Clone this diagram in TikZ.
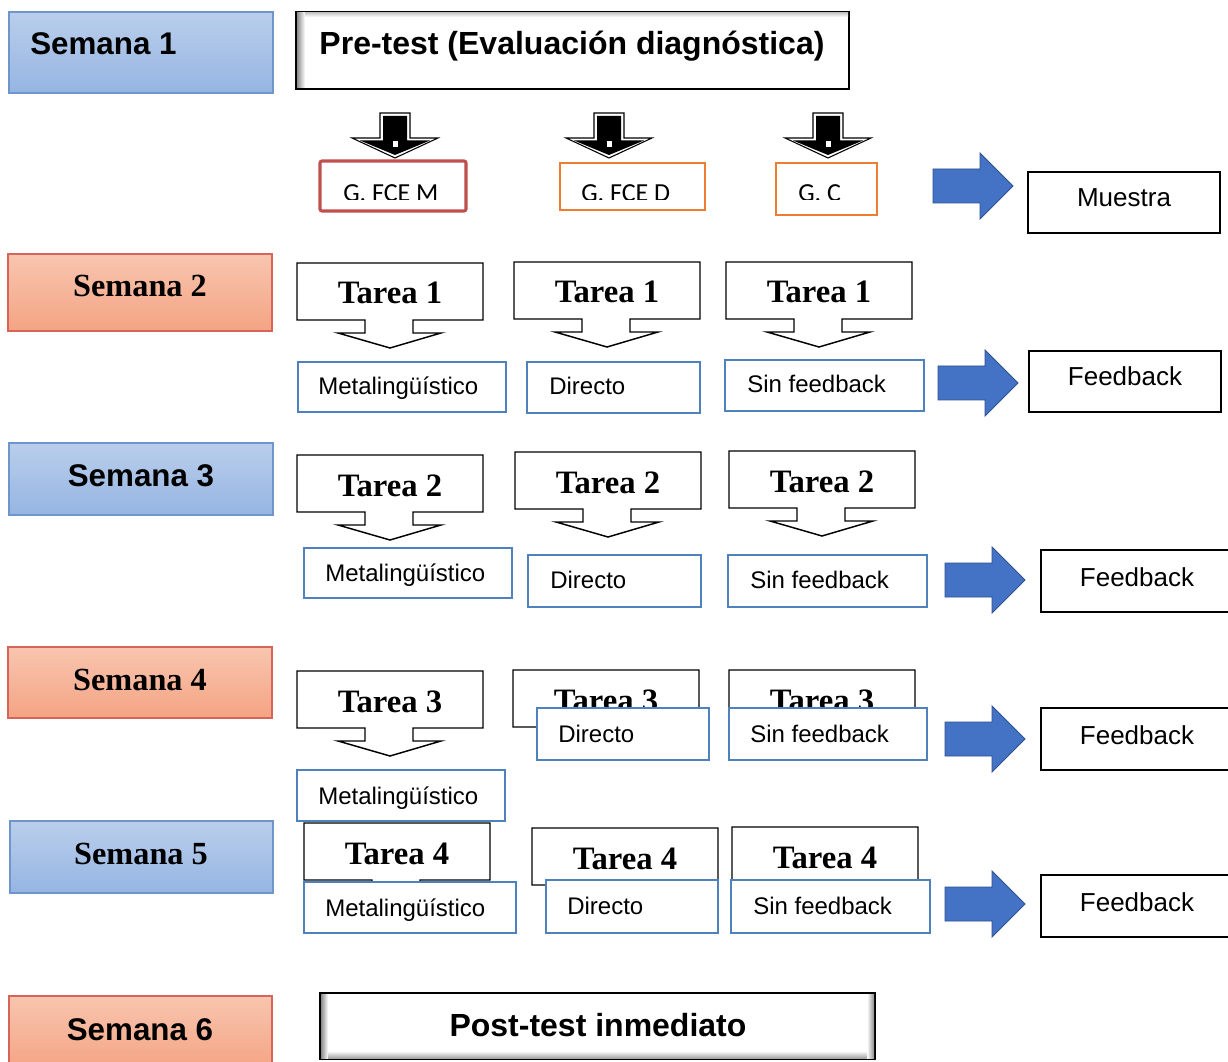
\documentclass[tikz,border=0pt]{standalone}
\usepackage{fontspec}
\setmainfont{Liberation Serif}
\newfontfamily\arial{Liberation Sans}
\newfontfamily\calib{Carlito}
\definecolor{bluetop}{RGB}{186,206,235}
\definecolor{bluebot}{RGB}{149,181,226}
\definecolor{blueedge}{RGB}{110,150,205}
\definecolor{redtop}{RGB}{248,197,175}
\definecolor{redbot}{RGB}{244,164,131}
\definecolor{rededge}{RGB}{215,100,90}
\definecolor{boxblue}{RGB}{79,129,189}
\definecolor{arrowfill}{RGB}{68,114,196}
\definecolor{arrowedge}{RGB}{47,82,143}
\definecolor{gred}{RGB}{192,80,77}
\definecolor{gorange}{RGB}{237,125,49}
\newcommand\callout[4]{%
  \draw[callst] (#1,#2) -- ({#1+186},#2) -- ({#1+186},{#2+57}) -- ({#1+116},{#2+57}) -- ({#1+116},{#2+70}) -- ({#1+144},{#2+70}) -- ({#1+93},{#2+85}) -- ({#1+41},{#2+70}) -- ({#1+68},{#2+70}) -- ({#1+68},{#2+57}) -- (#1,{#2+57}) -- cycle;
  \node[tarea] (#3) at ({#1+93},{#2+41}) {#4};}
\newcommand\bbox[4]{\draw[bluebox] (#1,#2) rectangle (#3,#4);}
\newcommand\kbox[4]{\draw[blackbox] (#1,#2) rectangle (#3,#4);}
\newcommand\barrow[2]{\draw[arrowst] (#1,{#2-17}) -- ({#1+47},{#2-17}) -- ({#1+47},{#2-33}) -- ({#1+80},#2) -- ({#1+47},{#2+33}) -- ({#1+47},{#2+17}) -- (#1,{#2+17}) -- cycle;}
\newcommand\darrow[1]{%
  \filldraw[fill=white, draw=black, line width=0.8pt] ({#1-15},113) -- ({#1+15},113) -- ({#1+15},138) -- ({#1+43},138) -- (#1,158) -- ({#1-43},138) -- ({#1-15},138) -- cycle;
  \fill[black] ({#1-12},116) -- ({#1+12},116) -- ({#1+12},140.5) -- ({#1+35},140.5) -- (#1,155) -- ({#1-35},140.5) -- ({#1-12},140.5) -- cycle;
  \fill[white] ({#1-2.5},141) rectangle ({#1+2.5},147);}
\begin{document}
\begin{tikzpicture}[x=0.75pt,y=-0.75pt,
  semblue/.style={top color=bluetop, bottom color=bluebot, draw=blueedge, line width=0.8pt},
  semred/.style={top color=redtop, bottom color=redbot, draw=rededge, line width=0.8pt},
  semA/.style={font={\arial\bfseries\fontsize{23.5}{28}\selectfont}, anchor=base, inner sep=0},
  ttlA/.style={font={\arial\bfseries\fontsize{24}{28}\selectfont}, anchor=base, inner sep=0},
  semT/.style={font={\bfseries\fontsize{24.2}{28}\selectfont}, anchor=base, inner sep=0},
  tarea/.style={font={\bfseries\fontsize{24.5}{28}\selectfont}, anchor=base, inner sep=0},
  lbl/.style={font={\arial\fontsize{18}{22}\selectfont}, anchor=base west, inner sep=0},
  fb/.style={font={\arial\fontsize{19.5}{24}\selectfont}, anchor=base, inner sep=0},
  gtext/.style={font={\calib\fontsize{19.5}{24}\selectfont}, anchor=base west, inner sep=0},
  callst/.style={draw=black, fill=white, line width=1.1pt, line join=miter},
  bluebox/.style={draw=boxblue, fill=white, line width=1.6pt},
  blackbox/.style={draw=black, fill=white, line width=1.3pt},
  arrowst/.style={fill=arrowfill, draw=arrowedge, line width=0.6pt}]
\useasboundingbox (0,0) rectangle (1228,1062);
\clip (0,0) rectangle (1228,1062);
\fill[white] (0,0) rectangle (1228,1062);

% Semana boxes
\draw[semblue] (9,12) rectangle (273,93);
\node[semA, anchor=base west] (s1) at (30,55) {Semana 1};
\draw[semred] (8,254) rectangle (272,331);
\node[semT] (s2) at (140,297) {Semana 2};
\draw[semblue] (9,443) rectangle (273,515);
\node[semA] (s3) at (141,486) {Semana 3};
\draw[semred] (8,647) rectangle (272,718);
\node[semT] (s4) at (140,690) {Semana 4};
\draw[semblue] (10,821) rectangle (273,893);
\node[semT] (s5) at (141,864) {Semana 5};
\draw[semred] (9,996) rectangle (272,1070);
\node[semA] (s6) at (140,1040) {Semana 6};

% Pre-test
\draw[fill=white, draw=black, line width=1.3pt] (296,12) rectangle (849,89);
\shade[left color=black!45, right color=white] (297,13) rectangle (305,88);
\shade[top color=black!20, bottom color=white] (305,13) rectangle (848,17);
\node[ttlA] (pre) at (572,55) {Pre-test (Evaluación diagnóstica)};

% down arrows
\darrow{395}
\darrow{609}
\darrow{828}

% groups
\draw[draw=gred, line width=2.3pt, rounded corners=1.5pt] (320,161) rectangle (466,211);
\begin{scope}\clip (322,163) rectangle (464,200);
\node[gtext] (g1) at (343,201.5) {G. FCE M};\end{scope}
\draw[draw=gorange, line width=1.5pt] (560,163) rectangle (705,210);
\begin{scope}\clip (562,165) rectangle (703,200);
\node[gtext] (g2) at (581,201.5) {G. FCE D};\end{scope}
\draw[draw=gorange, line width=1.5pt] (776,163) rectangle (877,215);
\begin{scope}\clip (778,165) rectangle (875,200);
\node[gtext] (g3) at (798,201.5) {G. C};\end{scope}

\barrow{933}{186}
\kbox{1028}{172}{1220}{233}
\node[fb] (mu) at (1124,207) {Muestra};

% Row 2
\callout{297}{263}{t21}{Tarea 1}
\callout{514}{262}{t22}{Tarea 1}
\callout{726}{262}{t23}{Tarea 1}
\bbox{298}{362}{506}{412}
\node[lbl] (m2) at (318,395) {Metalingüístico};
\bbox{527}{362}{700}{413}
\node[lbl] (d2) at (549,395) {Directo};
\bbox{725}{360}{924}{411}
\node[lbl] (n2) at (747,393) {Sin feedback};
\barrow{938}{383}
\kbox{1029}{351}{1221}{412}
\node[fb] (f2) at (1125,386) {Feedback};

% Row 3
\callout{297}{455}{t31}{Tarea 2}
\callout{515}{452}{t32}{Tarea 2}
\callout{729}{451}{t33}{Tarea 2}
\bbox{304}{548}{512}{598}
\node[lbl] (m3) at (325,581) {Metalingüístico};
\bbox{528}{555}{701}{607}
\node[lbl] (d3) at (550,588) {Directo};
\bbox{728}{555}{927}{607}
\node[lbl] (n3) at (750,588) {Sin feedback};
\barrow{945}{580}
\kbox{1041}{550}{1240}{612}
\node[fb] (f3) at (1137,586) {Feedback};

% Row 4
\callout{297}{671}{t41}{Tarea 3}
\callout{513}{670}{t42}{Tarea 3}
\callout{729}{670}{t43}{Tarea 3}
\bbox{537}{708}{709}{760}
\node[lbl] (d4) at (558,742) {Directo};
\bbox{729}{708}{927}{760}
\node[lbl] (n4) at (750,742) {Sin feedback};
\bbox{297}{770}{505}{821}
\node[lbl] (m4) at (318,804) {Metalingüístico};
\barrow{945}{739}
\kbox{1041}{708}{1240}{770}
\node[fb] (f4) at (1137,744) {Feedback};

% Row 5
\callout{304}{823}{t51}{Tarea 4}
\callout{532}{828}{t52}{Tarea 4}
\callout{732}{827}{t53}{Tarea 4}
\bbox{304}{882}{516}{933}
\node[lbl] (m5) at (325,916) {Metalingüístico};
\bbox{546}{880}{718}{933}
\node[lbl] (d5) at (567,914) {Directo};
\bbox{731}{880}{930}{933}
\node[lbl] (n5) at (753,914) {Sin feedback};
\barrow{945}{904}
\kbox{1041}{875}{1240}{937}
\node[fb] (f5) at (1137,911) {Feedback};

% Post-test
\draw[fill=white, draw=black, line width=1.3pt] (320,993) rectangle (875,1059);
\shade[left color=black!45, right color=white] (321,994) rectangle (328,1058);
\shade[left color=white, right color=black!45] (867,994) rectangle (874,1058);
\shade[top color=white, bottom color=black!35] (328,1051) rectangle (867,1058);
\node[ttlA] (post) at (598,1036) {Post-test inmediato};
\end{tikzpicture}
\end{document}
